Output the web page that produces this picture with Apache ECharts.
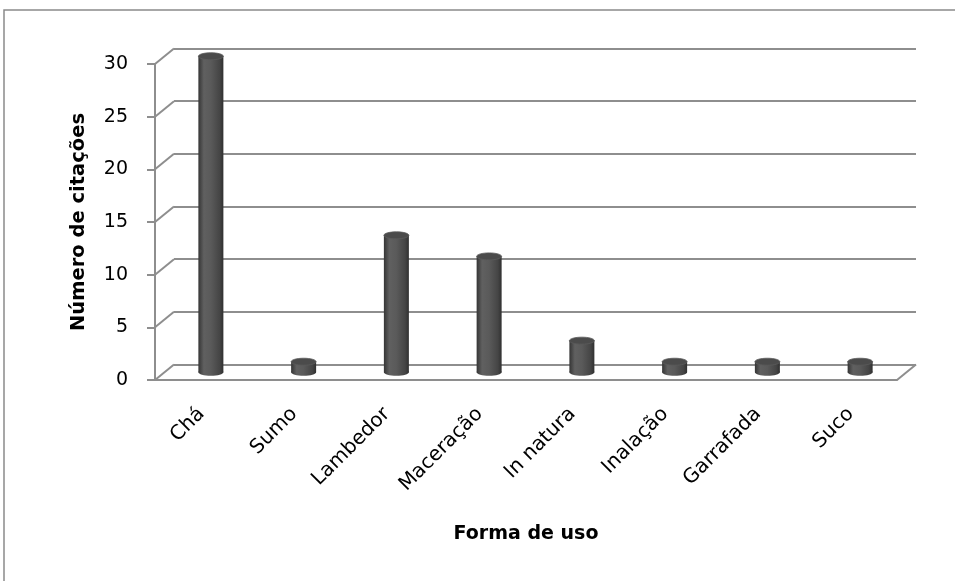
<!DOCTYPE html>
<html>
<head>
<meta charset="utf-8">
<script src="https://cdn.jsdelivr.net/npm/echarts@6/dist/echarts.min.js"></script>
<style>
  html, body { margin: 0; padding: 0; background: #ffffff; }
  #chart { width: 955px; height: 581px; }
</style>
</head>
<body>
<div id="chart"></div>
<script>
// Forms of use and number of citations
const categories = ['Chá', 'Sumo', 'Lambedor', 'Maceração', 'In natura', 'Inalação', 'Garrafada', 'Suco'];
const citations = [30, 1, 13, 11, 3, 1, 1, 1];
const yTicks = [0, 5, 10, 15, 20, 25, 30];

// depth of the pseudo-3D box (back wall shift relative to the front plane)
const DX = 19, DY = -15.5;
const FONT = '"DejaVu Sans", "Open Sans", sans-serif';
const GRID_COLOR = '#8e8e8e';

const chart = echarts.init(document.getElementById('chart'), null, { renderer: 'canvas' });

const cylGradient = new echarts.graphic.LinearGradient(0, 0, 1, 0, [
  { offset: 0, color: '#353535' },
  { offset: 0.22, color: '#606060' },
  { offset: 0.5, color: '#5a5a5a' },
  { offset: 0.85, color: '#454545' },
  { offset: 1, color: '#303030' }
]);

function renderCylinder(params, api) {
  const idx = api.value(0);
  const val = api.value(1);
  const base = api.coord([idx, 0]);
  const top = api.coord([idx, val]);
  const cx = base[0] + DX / 2;
  const by = base[1] + DY / 2;
  const ty = top[1] + DY / 2;
  const rx = 12.5, ry = 3.5;
  return {
    type: 'group',
    children: [
      { type: 'ellipse', shape: { cx: cx, cy: by, rx: rx, ry: ry }, style: { fill: cylGradient } },
      { type: 'rect', shape: { x: cx - rx, y: ty, width: rx * 2, height: by - ty }, style: { fill: cylGradient } },
      { type: 'ellipse', shape: { cx: cx, cy: ty, rx: rx, ry: ry }, style: { fill: '#4b4b4b', stroke: '#5c5c5c', lineWidth: 0.8 } }
    ]
  };
}

// diagonal edges joining the front axis ticks to the back wall gridlines
function renderDiagonals(params, api) {
  const cs = params.coordSys;
  const v = api.value(0);
  const y = api.coord([0, v])[1];
  const children = [
    { type: 'line', shape: { x1: cs.x, y1: y, x2: cs.x + DX, y2: y + DY }, style: { stroke: GRID_COLOR, lineWidth: 2 } }
  ];
  if (v === 0) {
    const xr = cs.x + cs.width;
    children.push({ type: 'line', shape: { x1: xr, y1: y, x2: xr + DX, y2: y + DY }, style: { stroke: GRID_COLOR, lineWidth: 2 } });
  }
  return { type: 'group', children: children };
}

const option = {
  backgroundColor: '#ffffff',
  animation: false,
  graphic: [
    { type: 'rect', shape: { x: 4, y: 10, width: 1000, height: 700 }, style: { fill: 'none', stroke: '#8a8a8a', lineWidth: 1.5 }, silent: true }
  ],
  grid: [
    { left: 155, right: 58, top: 64, bottom: 201 },
    { left: 155 + DX, right: 58 - DX, top: 64 + DY, bottom: 201 - DY }
  ],
  xAxis: [
    {
      type: 'category', gridIndex: 0, data: categories,
      axisLine: { show: true, lineStyle: { color: GRID_COLOR, width: 2 } },
      axisTick: { show: false },
      axisLabel: { rotate: 45, margin: 31, fontSize: 20, color: '#000', fontFamily: FONT },
      name: 'Forma de uso', nameLocation: 'middle', nameGap: 145,
      nameTextStyle: { fontSize: 19, fontWeight: 'bold', color: '#000', fontFamily: FONT }
    },
    { type: 'category', gridIndex: 1, data: categories, show: false }
  ],
  yAxis: [
    {
      type: 'value', gridIndex: 0, min: 0, max: 30, interval: 5,
      axisLine: { show: true, lineStyle: { color: GRID_COLOR, width: 2 } },
      axisTick: { show: true, length: 8, lineStyle: { color: GRID_COLOR, width: 2 } },
      axisLabel: { fontSize: 19, color: '#000', margin: 27, fontFamily: FONT },
      splitLine: { show: false },
      name: 'Número de citações', nameLocation: 'middle', nameGap: 66, nameRotate: 90,
      nameTextStyle: { fontSize: 19.5, fontWeight: 'bold', color: '#000', fontFamily: FONT }
    },
    {
      type: 'value', gridIndex: 1, min: 0, max: 30, interval: 5,
      axisLine: { show: false }, axisTick: { show: false }, axisLabel: { show: false },
      splitLine: { show: true, lineStyle: { color: GRID_COLOR, width: 2 } }
    }
  ],
  series: [
    {
      type: 'custom', xAxisIndex: 0, yAxisIndex: 0, z: 1,
      renderItem: renderDiagonals,
      data: yTicks.map(v => [v])
    },
    {
      type: 'custom', xAxisIndex: 0, yAxisIndex: 0, z: 5,
      renderItem: renderCylinder,
      data: citations.map((v, i) => [i, v])
    }
  ]
};

chart.setOption(option);
</script>
</body>
</html>
